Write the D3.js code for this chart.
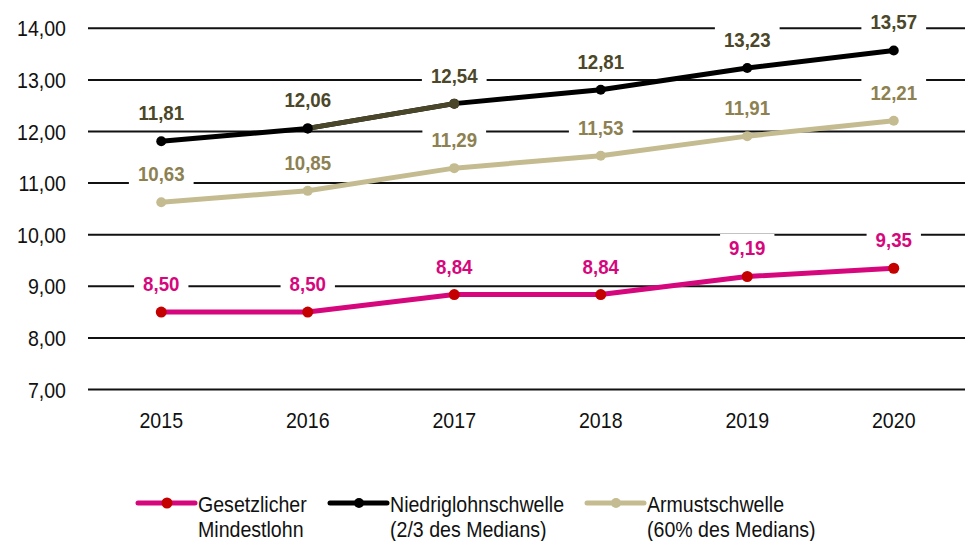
<!DOCTYPE html>
<html>
<head>
<meta charset="utf-8">
<script src="https://cdn.jsdelivr.net/npm/d3@7"></script>
<style>
  body { margin: 0; background: #fff; }
  svg text { font-family: "Liberation Sans", Arial, sans-serif; }
</style>
</head>
<body>
<div id="chart"></div>
<script>
// data
var years = ["2015", "2016", "2017", "2018", "2019", "2020"];
var mindestlohn = [8.50, 8.50, 8.84, 8.84, 9.19, 9.35];
var niedriglohn = [11.81, 12.06, 12.54, 12.81, 13.23, 13.57];
var armut = [10.63, 10.85, 11.29, 11.53, 11.91, 12.21];
var yTicks = [7, 8, 9, 10, 11, 12, 13, 14];
var legendLines = [
  ["Gesetzlicher", "Mindestlohn"],
  ["Niedriglohnschwelle", "(2/3 des Medians)"],
  ["Armustschwelle", "(60% des Medians)"]
];

var series = [
  { values: niedriglohn, line: "#000000", marker: "#000000", label: "#4b4728", r: 5 },
  { values: armut, line: "#c4bc90", marker: "#c4bc90", label: "#8d8152", r: 5 },
  { values: mindestlohn, line: "#d6077d", marker: "#c40000", label: "#d6077d", r: 5.5 }
];

var width = 965, height = 541;
var narrow = 0.89; // squeeze Liberation Sans toward a narrow face
var svg = d3.select("#chart").append("svg")
  .attr("width", width).attr("height", height);

var x = d3.scaleBand().domain(years).range([88, 967]);
var y = d3.scaleLinear().domain([7, 14]).range([389.5, 28.3]);
var fmt = function (v) { return d3.format(".2f")(v).replace(".", ","); };

function ntext(parent, tx, ty, str, anchor, size, color, weight) {
  return parent.append("text")
    .attr("transform", "translate(" + tx + "," + ty + ") scale(" + narrow + ",1)")
    .attr("text-anchor", anchor)
    .attr("font-size", size)
    .attr("font-weight", weight || "normal")
    .attr("fill", color)
    .text(str);
}

// gridlines
svg.append("g").selectAll("line")
  .data(yTicks).enter().append("line")
  .attr("x1", 88).attr("x2", width)
  .attr("y1", function (d) { return y(d); })
  .attr("y2", function (d) { return y(d); })
  .attr("stroke", "#111").attr("stroke-width", 2);

// y labels
var gy = svg.append("g");
yTicks.forEach(function (t) {
  ntext(gy, 66, y(t) + 8, fmt(t), "end", 22, "#111");
});

// x labels
var gx = svg.append("g");
years.forEach(function (yr) {
  ntext(gx, x(yr) + x.bandwidth() / 2, 428, yr, "middle", 22, "#111");
});

var cx = function (d, i) { return x(years[i]) + x.bandwidth() / 2; };
var line = d3.line().x(cx).y(function (d) { return y(d); });

// data labels first (white boxes mask gridlines)
series.forEach(function (s) {
  var g = svg.append("g");
  s.values.forEach(function (v, i) {
    var px = cx(v, i), py = y(v) - 28.5;
    var rect = g.append("rect").attr("fill", "#fff");
    var t = ntext(g, px, py + 7.5, fmt(v), "middle", 21, s.label, "bold");
    var w = t.node().getComputedTextLength() * narrow + 18;
    rect.attr("x", px - w / 2).attr("y", py - 14)
      .attr("width", w).attr("height", 28);
  });
});

// lines
series.forEach(function (s) {
  svg.append("path")
    .datum(s.values)
    .attr("d", line)
    .attr("fill", "none")
    .attr("stroke", s.line)
    .attr("stroke-width", 5)
    .attr("stroke-linejoin", "round");
  svg.append("g").selectAll("circle")
    .data(s.values).enter().append("circle")
    .attr("cx", cx)
    .attr("cy", function (d) { return y(d); })
    .attr("r", s.r)
    .attr("fill", s.marker);
});

// 2016-2017 segment of the black line is dark olive in the original
svg.append("line")
  .attr("x1", cx(null, 1)).attr("y1", y(niedriglohn[1]))
  .attr("x2", cx(null, 2)).attr("y2", y(niedriglohn[2]))
  .attr("stroke", "#4a4629").attr("stroke-width", 5);
svg.append("circle").attr("cx", cx(null, 1)).attr("cy", y(niedriglohn[1])).attr("r", 5).attr("fill", "#000");
svg.append("circle").attr("cx", cx(null, 2)).attr("cy", y(niedriglohn[2])).attr("r", 5).attr("fill", "#4a4629");

// legend
var legendX = [138, 330, 587];
var legendSeries = [series[2], series[0], series[1]];
legendLines.forEach(function (lines, i) {
  var s = legendSeries[i];
  var g = svg.append("g").attr("transform", "translate(" + legendX[i] + ",0)");
  g.append("line").attr("x1", 0).attr("x2", 57)
    .attr("y1", 503).attr("y2", 503)
    .attr("stroke", s.line).attr("stroke-width", 5)
    .attr("stroke-linecap", "round");
  g.append("circle").attr("cx", 29).attr("cy", 503).attr("r", s.r).attr("fill", s.marker);
  lines.forEach(function (str, j) {
    ntext(g, 60, 512 + j * 25, str, "start", 22, "#111");
  });
});
</script>
</body>
</html>
